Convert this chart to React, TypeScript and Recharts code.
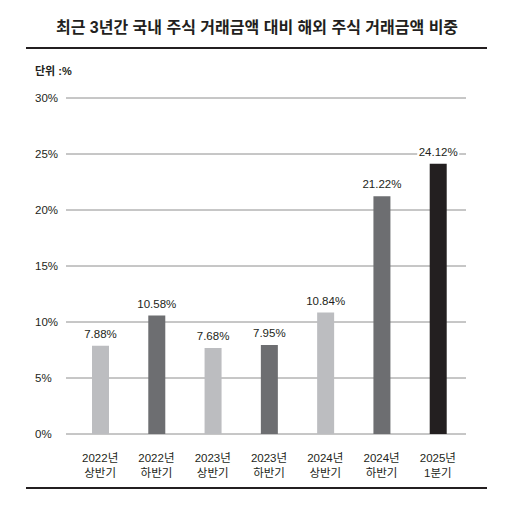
import React from "react";
import { BarChart, Bar, XAxis, YAxis, CartesianGrid, Cell, LabelList } from "recharts";

const periodYears = ["2022년", "2022년", "2023년", "2023년", "2024년", "2024년", "2025년"];
const periodParts = ["상반기", "하반기", "상반기", "하반기", "상반기", "하반기", "1분기"];
const shares = [7.88, 10.58, 7.68, 7.95, 10.84, 21.22, 24.12];
const yTicks = [0, 5, 10, 15, 20, 25, 30];

const data = periodYears.map((y, i) => ({
  key: `${y}-${periodParts[i]}`,
  year: y,
  part: periodParts[i],
  value: shares[i],
}));

const shade = (i: number) =>
  i === data.length - 1 ? "#231f20" : i % 2 === 0 ? "#bcbdc0" : "#6d6e71";

const FONT = '"Liberation Sans", "Noto Sans CJK KR", sans-serif';
const INK = "#231f20";

const YTick = (props: any) => {
  const { y, payload } = props;
  return (
    <text x={35} y={y} dy={4} fontSize={11.5} fill={INK} fontFamily={FONT} textAnchor="start">
      {payload.value}%
    </text>
  );
};

const XTick = (props: any) => {
  const { x, y, index } = props;
  const d = data[index];
  return (
    <g fontSize={11.5} fill={INK} fontFamily={FONT} textAnchor="middle">
      <text x={x} y={y + 16} dy={4}>
        {d.year}
      </text>
      <text x={x} y={y + 31} dy={4}>
        {d.part}
      </text>
    </g>
  );
};

const ValueLabel = (props: any) => {
  const { x, y, width, value } = props;
  const cx = x + width / 2;
  const cy = y - 12;
  return (
    <g>
      <rect x={cx - 21} y={cy - 7} width={42} height={14} fill="#fff" />
      <text x={cx} y={cy} dy={4} fontSize={11.5} fill={INK} fontFamily={FONT} textAnchor="middle">
        {value.toFixed(2)}%
      </text>
    </g>
  );
};

export default function App() {
  return (
    <div
      style={{
        position: "absolute",
        left: 0,
        top: 0,
        width: 514,
        height: 507,
        background: "#fff",
        fontFamily: FONT,
        color: INK,
      }}
    >
      <div
        style={{
          position: "absolute",
          top: 17,
          left: 0,
          width: 514,
          textAlign: "center",
          fontSize: 16,
          fontWeight: 700,
          lineHeight: "22px",
        }}
      >
        최근 3년간 국내 주식 거래금액 대비 해외 주식 거래금액 비중
      </div>
      <div style={{ position: "absolute", top: 47, left: 26, width: 461, height: 2, background: INK }} />
      <div style={{ position: "absolute", top: 63, left: 35, fontSize: 11, fontWeight: 700, lineHeight: "16px" }}>
        단위 :%
      </div>
      <div style={{ position: "absolute", top: 0, left: 0 }}>
        <BarChart
          width={514}
          height={507}
          data={data}
          margin={{ top: 98, right: 48, left: 35, bottom: 0 }}
        >
          <CartesianGrid vertical={false} stroke="#8e8e8e" strokeWidth={1} />
          <XAxis
            dataKey="key"
            axisLine={false}
            tickLine={false}
            height={73}
            interval={0}
            padding={{ left: 6, right: 0 }}
            tick={<XTick />}
          />
          <YAxis
            width={31}
            domain={[0, 30]}
            ticks={yTicks}
            interval={0}
            axisLine={false}
            tickLine={false}
            tick={<YTick />}
          />
          <Bar dataKey="value" barSize={17} isAnimationActive={false}>
            {data.map((d, i) => (
              <Cell key={d.key} fill={shade(i)} />
            ))}
            <LabelList dataKey="value" content={<ValueLabel />} />
          </Bar>
        </BarChart>
      </div>
      <div style={{ position: "absolute", top: 487, left: 26, width: 461, height: 2, background: INK }} />
    </div>
  );
}
